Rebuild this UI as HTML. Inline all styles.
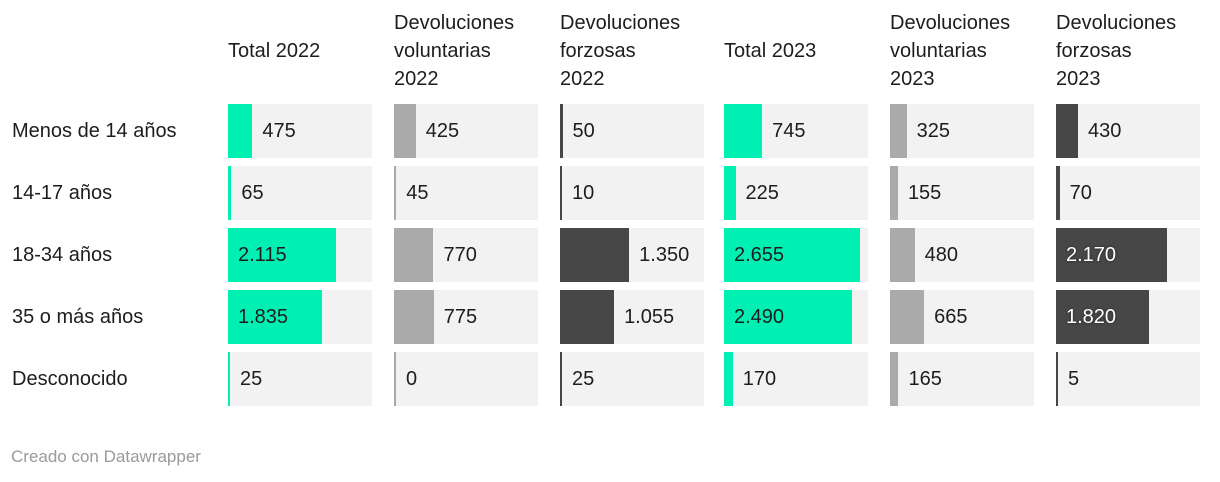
<!DOCTYPE html>
<html><head><meta charset="utf-8">
<style>
body{margin:0;width:1220px;height:482px;background:#fff;font-family:"Liberation Sans",sans-serif;color:#222;position:relative;overflow:hidden}
.h{position:absolute;font-size:20px;line-height:28px;color:#1d1d1d}
.rl{position:absolute;left:12px;font-size:20px;line-height:54px;color:#1d1d1d}
.cell{position:absolute;height:54px;background:#f2f2f2}
.bar{position:absolute;left:0;top:0;height:54px}
.v{position:absolute;top:0;line-height:54px;font-size:20px;color:#1d1d1d;white-space:nowrap}
.foot{position:absolute;left:11px;top:447px;font-size:17px;color:#9a9a9a}
</style></head><body>
<div id="root"></div>
<div class="foot">Creado con Datawrapper</div>
<script>
const categories=["Menos de 14 años","14-17 años","18-34 años","35 o más años","Desconocido"];
const columns=["Total 2022","Devoluciones voluntarias 2022","Devoluciones forzosas 2022","Total 2023","Devoluciones voluntarias 2023","Devoluciones forzosas 2023"];
const headerLines=[["Total 2022"],["Devoluciones","voluntarias","2022"],["Devoluciones","forzosas","2022"],["Total 2023"],["Devoluciones","voluntarias","2023"],["Devoluciones","forzosas","2023"]];
const total2022=[475,65,2115,1835,25];
const vol2022=[425,45,770,775,0];
const forz2022=[50,10,1350,1055,25];
const total2023=[745,225,2655,2490,170];
const vol2023=[325,155,480,665,165];
const forz2023=[430,70,2170,1820,5];
const series=[total2022,vol2022,forz2022,total2023,vol2023,forz2023];
const colors=["#00f0b4","#aaaaaa","#474747","#00f0b4","#aaaaaa","#474747"];
const colX=[228,394,560,724,890,1056], colW=144, rowY0=104, rowStep=62, domainMax=2810;
const x=v=>Math.max(2,v/domainMax*colW);
const fmt=v=>v.toLocaleString('de-DE');
const root=document.getElementById('root');
headerLines.forEach((lines,c)=>{
  const d=document.createElement('div');
  d.className='h';
  
  
  d.style.left=colX[c]+'px';
  d.style.top=(65-lines.length*28+10+ (lines.length===1?0:0))+'px';
  if(lines.length===1) d.style.top='37px'; else d.style.top='9px';
  d.innerHTML=lines.join('<br>');
  root.appendChild(d);
});
categories.forEach((cat,r)=>{
  const y=rowY0+r*rowStep;
  const l=document.createElement('div');
  l.className='rl';
  
  
  l.style.top=y+'px';l.textContent=cat;root.appendChild(l);
  series.forEach((s,c)=>{
    const cell=document.createElement('div');
    cell.className='cell';
    
    
    cell.style.left=colX[c]+'px';cell.style.top=y+'px';cell.style.width=colW+'px';
    const w=x(s[r]);
    const b=document.createElement('div');
    b.className='bar';
    
    
    b.style.width=w+'px';b.style.background=colors[c];
    cell.appendChild(b);
    const t=document.createElement('div');
    t.className='v';
    
    
    t.textContent=fmt(s[r]);
    const tw=s[r]>=1000?58:(s[r]>=100?36:(s[r]>=10?24:12));
    if(w>=tw+14){
      t.style.left='10px';
      if(colors[c]==='#474747'){t.style.color='#fff';t.style.textShadow='0 0 2px #333,0 0 2px #333';}
    } else t.style.left=(w+10)+'px';
    cell.appendChild(t);
    root.appendChild(cell);
  });
});
</script>
</body></html>
